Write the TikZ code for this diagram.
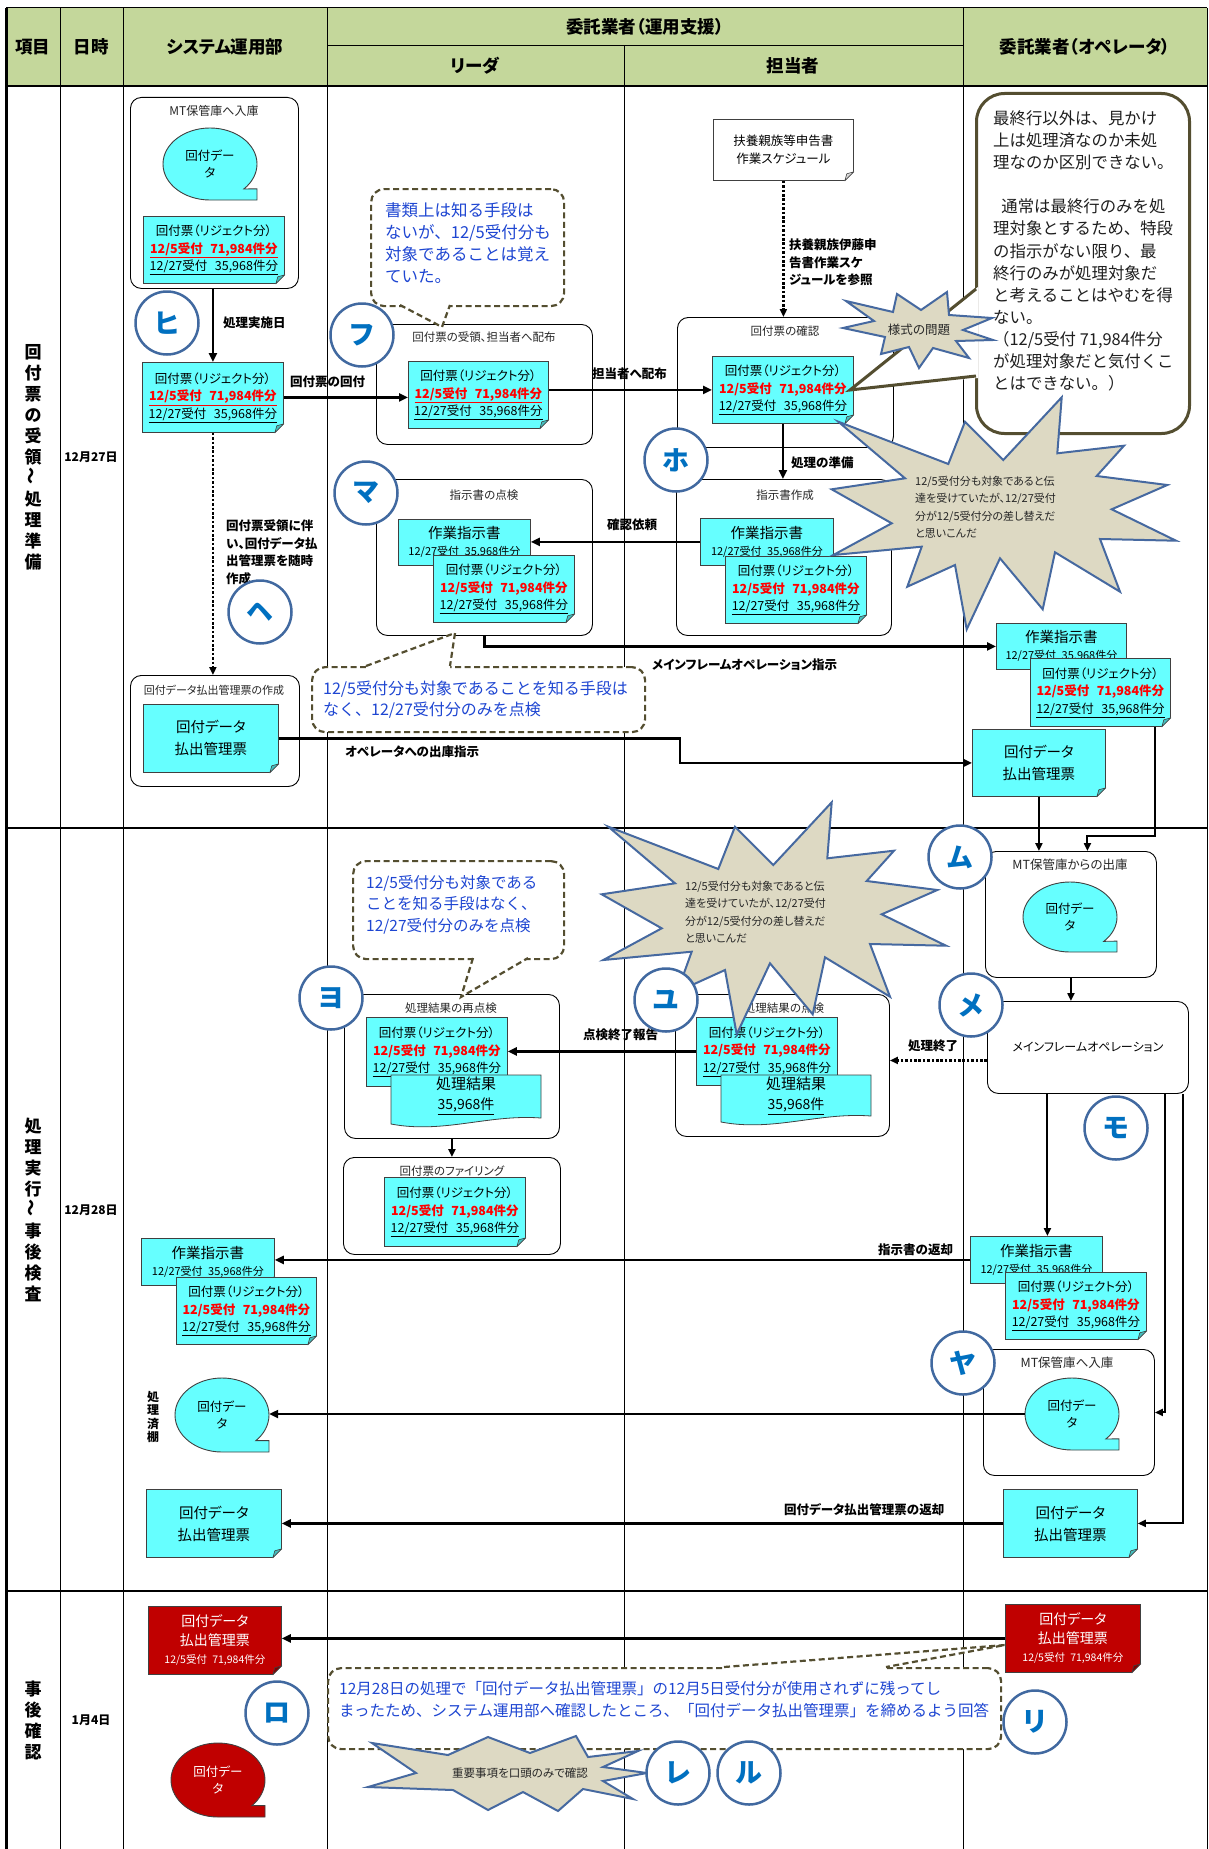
\documentclass[tikz,border=0pt]{standalone}
\usepackage{fontspec}
\usepackage{graphicx}
\setmainfont{Noto Sans CJK JP}
\newfontfamily\jpp{Noto Sans CJK JP}[RawFeature=+palt]
\usetikzlibrary{arrows.meta,calc}
\definecolor{hdrgreen}{RGB}{196,215,155}
\definecolor{cyanf}{RGB}{102,255,255}
\definecolor{foldc}{RGB}{70,190,190}
\definecolor{docline}{RGB}{64,64,64}
\definecolor{redf}{RGB}{192,0,0}
\definecolor{redfold}{RGB}{130,0,0}
\definecolor{redtxt}{RGB}{255,0,0}
\definecolor{markline}{RGB}{65,105,160}
\definecolor{marktext}{RGB}{0,112,192}
\definecolor{burstf}{RGB}{221,217,195}
\definecolor{burstl}{RGB}{70,105,160}
\definecolor{calloutl}{RGB}{84,78,48}
\definecolor{bluetxt}{RGB}{30,70,210}

\newcommand\kaifuU{回付票（リジェクト分）\\{\color{redtxt}\bfseries\underline{12/5受付\hspace{0.6em}71,984件分}}\\\underline{12/27受付\hspace{0.6em}35,968件分}}
\newcommand\kaifu{回付票（リジェクト分）\\{\color{redtxt}\bfseries 12/5受付\hspace{0.6em}71,984件分}\\\underline{12/27受付\hspace{0.6em}35,968件分}}
\newcommand\sagyo{作業指示書\\{\fontsize{11}{14}\selectfont 12/27受付\hspace{0.5em}35,968件分}}
\newcommand\harai{回付データ\\払出管理票}
\newcommand\fold[2][foldc]{%
  \fill[white] ([xshift=-10pt,yshift=-1pt]#2.south east) -- ([xshift=1pt,yshift=-1pt]#2.south east) -- ([xshift=1pt,yshift=10pt]#2.south east) -- cycle;
  \filldraw[fill=#1, draw=docline, line width=0.6pt, line join=round] ([xshift=-9pt]#2.south east) -- ([yshift=9pt]#2.south east) -- ([xshift=-7pt,yshift=7pt]#2.south east) -- cycle;}
\newcommand\blobshape[5]{%
  \filldraw[fill=#5, draw=docline, line width=0.9pt] (#1,#2+#4) arc[start angle=-90, end angle=-404, x radius=#3pt, y radius=#4pt] -- (#1+#3,#2+0.69*#4) -- (#1+#3,#2+#4) -- cycle;}
\newcommand\wavyshape[4]{%
  \filldraw[fill=cyanf, draw=docline, line width=0.8pt] (#1,#2) -- (#1+#3,#2) -- (#1+#3,#2+#4-9) .. controls (#1+0.65*#3,#2+#4-13) and (#1+0.35*#3,#2+#4+7) .. (#1,#2+#4-3) -- cycle;}
\newcommand\burstbig[2]{%
  \filldraw[burstst, shift={(#1,#2)}] (18.3,31.7) -- (128.3,74) -- (145,31.7) -- (183.3,70) -- (241.7,7.3) -- (237.3,63.3) -- (304,55.7) -- (276.7,86) -- (347.3,95) -- (291.7,119.3) -- (356,150.7) -- (280,149) -- (300,201.7) -- (235,162.3) -- (222.7,219.3) -- (180,168.3) -- (146.7,239.3) -- (135,175) -- (87.3,196.7) -- (101.7,156.7) -- (13.3,165) -- (71.7,133.3) -- (11.7,99.3) -- (85,88.3) -- cycle;}

\begin{document}
\begin{tikzpicture}[x=1pt,y=-1pt,
 hdr/.style={font=\jpp\bfseries\fontsize{17.5}{20}\selectfont, inner sep=0pt},
 vlab/.style={font=\bfseries\fontsize{17}{21}\selectfont, align=center, inner sep=0pt},
 datel/.style={font=\jpp\bfseries\fontsize{12}{14}\selectfont, inner sep=0pt},
 pbox/.style={draw=black, line width=0.9pt, rounded corners=11pt, fill=white, anchor=north west, inner sep=0pt},
 ptitle/.style={font=\jpp\fontsize{11.5}{14}\selectfont, inner sep=0pt, text=black!85},
 doc/.style={draw=docline, fill=cyanf, line width=0.8pt, anchor=north west, inner sep=0pt, align=center, font=\jpp\fontsize{12.5}{17.5}\selectfont},
 wdoc/.style={doc, fill=white},
 rdoc/.style={doc, fill=redf, text=white, font=\jpp\fontsize{14}{18.5}\selectfont},
 sdoc/.style={doc, font=\jpp\fontsize{14.5}{17}\selectfont},
 pdocs/.style={doc, font=\jpp\fontsize{14.5}{22}\selectfont},
 blobt/.style={inner sep=0pt, align=center, font=\jpp\fontsize{12.5}{17}\selectfont},
 kt/.style={inner sep=0pt, align=center, font=\jpp\fontsize{15}{20}\selectfont},
 marker/.style={circle, draw=markline, line width=2.5pt, fill=white, minimum size=63pt, inner sep=0pt, text=marktext, font=\bfseries\fontsize{27}{27}\selectfont},
 lbl/.style={font=\jpp\bfseries\fontsize{12.5}{17.5}\selectfont, inner sep=0pt, anchor=west},
 mlbl/.style={font=\jpp\bfseries\fontsize{12.5}{17.5}\selectfont, inner sep=0pt, anchor=north west, align=left},
 flow/.style={line width=2.6pt, -{Triangle[length=9pt,width=8pt]}},
 thinflow/.style={line width=2pt, -{Triangle[length=8pt,width=7pt]}},
 dotflow/.style={line width=2.6pt, dash pattern=on 2.6pt off 1.8pt, -{Triangle[length=8pt,width=7pt]}},
 cbox/.style={draw=calloutl, line width=2.2pt, dash pattern=on 6pt off 3.5pt, rounded corners=13pt, fill=white, anchor=north west, inner sep=0pt},
 ctail/.style={draw=calloutl, line width=2.2pt, dash pattern=on 6pt off 3.5pt},
 ctext/.style={text=bluetxt, font=\fontsize{16.5}{22}\selectfont, anchor=north west, align=left, inner sep=0pt},
 bubbox/.style={draw=calloutl, line width=3pt, rounded corners=28pt, fill=white, anchor=north west, inner sep=0pt},
 burstst/.style={draw=burstl, fill=burstf, line width=2pt, line join=miter},
 bursttext/.style={inner sep=0pt, anchor=north west, align=left, text=black!85, font=\jpp\fontsize{11}{17.6}\selectfont},
]
\useasboundingbox (0,0) rectangle (1208,1849);

% ---------- table ----------
\fill[hdrgreen] (6,8) rectangle (1207,86);
\draw[line width=1pt] (6,8) -- (1207,8);
\draw[line width=1pt] (327,46) -- (963,46);
\draw[line width=2pt] (6,86) -- (1207,86);
\draw[line width=1.2pt] (6,828) -- (1207,828);
\draw[line width=1.2pt] (6,1591) -- (1207,1591);
\foreach \xx in {60,123,327,963} \draw[line width=1pt] (\xx,8) -- (\xx,1849);
\draw[line width=1pt] (624,46) -- (624,1849);
\draw[line width=3pt] (6,8) -- (6,1849);
\draw[line width=1pt] (1207,8) -- (1207,1849);

\node[hdr] (h1) at (33,47) {項目};
\node[hdr] (h2) at (91,47) {日時};
\node[hdr] (h3) at (225,47) {システム運用部};
\node[hdr] (h4) at (645,27) {委託業者（運用支援）};
\node[hdr] (h5) at (475,66) {リーダ};
\node[hdr] (h6) at (793,66) {担当者};
\node[hdr] (h7) at (1085,47) {委託業者（オペレータ）};

\node[vlab] (v1) at (33,457) {回\\付\\票\\の\\受\\領\\\rotatebox{90}{～}\\処\\理\\準\\備};
\node[vlab] (v2) at (33,1210) {処\\理\\実\\行\\\rotatebox{90}{～}\\事\\後\\検\\査};
\node[vlab] (v3) at (33,1720) {事\\後\\確\\認};
\node[datel] (d1) at (91,457) {12月27日};
\node[datel] (d2) at (91,1210) {12月28日};
\node[datel] (d3) at (91,1720) {1月4日};

% ---------- section 1 ----------
\node[pbox, minimum width=168, minimum height=191] (mtsys) at (130,97) {};
\node[ptitle, font=\jpp\fontsize{12}{14}\selectfont] (mtsyst) at (214,111) {MT保管庫へ入庫};
\blobshape{210}{164}{47}{36}{cyanf}
\node[blobt, minimum width=94, minimum height=72] (blob1) at (210,164) {回付デー\\タ};
\node[doc, minimum width=141, minimum height=67] (hd1) at (143,216) {\kaifuU};
\fold{hd1}
\node[doc, minimum width=141, minimum height=70] (hd2) at (142,362) {\kaifuU};
\fold{hd2}
\draw[flow] (mtsys.south -| hd2.north) -- (hd2.north);
\node[lbl] (l1) at (223,323) {処理実施日};

\node[pbox, minimum width=216, minimum height=120] (fbox) at (376,324) {};
\node[ptitle] (fboxt) at (484,337) {回付票の受領、担当者へ配布};
\node[doc, minimum width=140, minimum height=67] (fdoc) at (408,361) {\kaifuU};
\fold{fdoc}
\draw[flow] (hd2.east) -- (hd2.east -| fdoc.west);
\node[lbl] (l2) at (290,382) {回付票の回付};

\node[wdoc, minimum width=140, minimum height=61, font=\jpp\fontsize{12.5}{18}\selectfont] (fuyo) at (713,119) {扶養親族等申告書\\作業スケジュール};
\fold[black!15]{fuyo}
\node[pbox, minimum width=216, minimum height=130] (hobox) at (677,317) {};
\node[ptitle] (hoboxt) at (785,331) {回付票の確認};
\node[doc, minimum width=141, minimum height=67] (hodoc) at (712,356) {\kaifu};
\fold{hodoc}
\draw[dotflow] (fuyo.south) -- (fuyo.south |- hobox.north);
\node[mlbl] (l3) at (789,239) {扶養親族伊藤申\\告書作業スケ\\ジュールを参照};
\draw[flow] (hodoc.west -| fdoc.east) -- (hodoc.west);
\node[lbl] (l4) at (592,374) {担当者へ配布};

\node[pbox, minimum width=215, minimum height=156] (hsbox) at (676,479) {};
\node[ptitle] (hsboxt) at (785,495) {指示書作成};
\node[sdoc, minimum width=133, minimum height=47] (hsdoc) at (700,518) {\sagyo};
\fold{hsdoc}
\node[doc, minimum width=141, minimum height=67] (hrdoc) at (725,556) {\kaifu};
\fold{hrdoc}
\draw[flow] (hodoc.south) -- (hodoc.south |- hsbox.north);
\node[lbl] (l5) at (791,463) {処理の準備};

\node[pbox, minimum width=216, minimum height=156] (mbox) at (376,479) {};
\node[ptitle] (mboxt) at (484,495) {指示書の点検};
\node[sdoc, minimum width=132, minimum height=46] (msdoc) at (398,519) {\sagyo};
\fold{msdoc}
\node[doc, minimum width=141, minimum height=67] (mrdoc) at (433,555) {\kaifu};
\fold{mrdoc}
\draw[flow] (hsdoc.west) -- (hsdoc.west -| msdoc.east);
\node[lbl] (l6) at (607,525) {確認依頼};

\node[sdoc, minimum width=130, minimum height=46] (opsdoc) at (996,623) {\sagyo};
\fold{opsdoc}
\node[doc, minimum width=140, minimum height=68] (oprdoc) at (1030,658) {\kaifu};
\fold{oprdoc}
\draw[flow] (mbox.south) |- (opsdoc.west);
\node[lbl] (l7) at (652,665) {メインフレームオペレーション指示};

\node[pbox, minimum width=169, minimum height=111] (pbox) at (130,675) {};
\node[ptitle, font=\jpp\fontsize{11}{13}\selectfont] (pboxt) at (214,690) {回付データ払出管理票の作成};
\node[pdocs, minimum width=135, minimum height=68] (pdoc) at (143,704) {\harai};
\fold{pdoc}
\draw[dotflow] (hd2.south) -- (hd2.south |- pbox.north);
\node[mlbl] (l8) at (226,520) {回付票受領に伴\\い、回付データ払\\出管理票を随時\\作成};

\node[pdocs, minimum width=133, minimum height=67] (opdoc) at (972,729) {\harai};
\fold{opdoc}
\draw[flow] (pdoc.east) -- ++(401,0) |- (opdoc.west);
\node[lbl] (l9) at (345,752) {オペレータへの出庫指示};

% callout 1
\node[cbox, minimum width=193, minimum height=117] (c1) at (370,188) {};
\fill[white] (400,302) -- (450,302) -- (450,305) -- (442,327) -- (400,305) -- cycle;
\draw[ctail] (400,305) -- (442,327) -- (450,305);
\node[ctext] (c1t) at (385,202.5) {書類上は知る手段は\\ないが、12/5受付分も\\対象であることは覚え\\ていた。};

% callout 2
\node[cbox, minimum width=333, minimum height=65] (c2) at (311,666) {};
\fill[white] (366,669) -- (366,666) -- (455,633) -- (450,666) -- (450,669) -- cycle;
\draw[ctail] (366,666) -- (455,633) -- (450,666);
\node[ctext, font=\fontsize{16}{21}\selectfont] (c2t) at (323,680.6) {12/5受付分も対象であることを知る手段は\\なく、12/27受付分のみを点検};

% bubble
\node[bubbox, minimum width=213, minimum height=340] (bub) at (975,92) {};
\fill[white] (978,287) -- (850,390) -- (978,378) -- cycle;
\draw[calloutl, line width=3pt] (976,289) -- (850,390) -- (976,376);
\node[anchor=north west, align=left, inner sep=0pt, text=black!88, font=\fontsize{16.4}{22.1}\selectfont] (bubt) at (993,110.5) {最終行以外は、見かけ\\上は処理済なのか未処\\理なのか区別できない。\\[22.1pt]\hspace{0.5em}通常は最終行のみを処\\理対象とするため、特段\\の指示がない限り、最\\終行のみが処理対象だ\\と考えることはやむを得\\ない。\\（12/5受付 71,984件分\\が処理対象だと気付くこ\\とはできない。）};

% starburst: 様式の問題
\filldraw[burstst, shift={(919,330)}] (-73,-29) -- (-26,-18) -- (-22,-36) -- (2,-20) -- (28,-38) -- (30,-15) -- (73,-12) -- (44,0) -- (74,10) -- (37,11) -- (50,28) -- (14,18) -- (0,38) -- (-10,17) -- (-38,24) -- (-34,7) -- (-76,-2) -- (-45,-9) -- cycle;
\node[inner sep=0pt, text=black!85, font=\jpp\fontsize{12.5}{14}\selectfont] (sbA) at (919,330) {様式の問題};

% big starburst 1
\burstbig{820}{390}
\node[bursttext] (sb1) at (915,475.6) {12/5受付分も対象であると伝\\達を受けていたが、12/27受付\\分が12/5受付分の差し替えだ\\と思いこんだ};

\node[marker] (mHi) at (167,323) {ヒ};
\node[marker] (mFu) at (362,335) {フ};
\node[marker] (mHo) at (676,460) {ホ};
\node[marker] (mMa) at (366,493) {マ};
\node[marker] (mHe) at (260,612) {ヘ};

% ---------- section 2 ----------
\node[pbox, minimum width=171, minimum height=126] (mtout) at (985,851) {};
\node[ptitle, font=\jpp\fontsize{12.5}{14}\selectfont] (mtoutt) at (1070,865) {MT保管庫からの出庫};
\blobshape{1070}{917}{47}{35}{cyanf}
\node[blobt, minimum width=94, minimum height=70] (blob2) at (1070,917) {回付デー\\タ};
\draw[thinflow] (opdoc.south) -- (opdoc.south |- mtout.north);
\draw[thinflow] ([xshift=-16pt]oprdoc.south east) -- ++(0,109) -| ([xshift=16.5pt]mtout.north);

\node[pbox, minimum width=201, minimum height=92, font=\jpp\fontsize{12}{14}\selectfont] (mfbox) at (987,1001) {メインフレームオペレーション};
\draw[thinflow] (mtout.south) -- (mtout.south |- mfbox.north);

\node[pbox, minimum width=214, minimum height=142] (yubox) at (675,994) {};
\node[ptitle] (yuboxt) at (784,1008) {処理結果の点検};
\node[doc, minimum width=141, minimum height=68] (yurdoc) at (696,1017) {\kaifu};
\wavyshape{721}{1075}{150}{50}
\node[kt] (yukdoc) at (796,1096) {処理結果\\{\fontsize{14}{20}\selectfont\underline{35,968件}}};
\draw[dotflow] ([yshift=-13pt]mfbox.west) -- ([yshift=-13pt]mfbox.west -| yubox.east);
\node[lbl] (l10) at (908,1046) {処理終了};

\node[pbox, minimum width=215, minimum height=144] (yobox) at (344,994) {};
\node[ptitle] (yoboxt) at (451,1008) {処理結果の再点検};
\node[doc, minimum width=141, minimum height=69] (yordoc) at (366,1017) {\kaifu};
\wavyshape{391}{1075}{150}{52}
\node[kt] (yokdoc) at (466,1096) {処理結果\\{\fontsize{14}{20}\selectfont\underline{35,968件}}};
\draw[flow] (yurdoc.west) -- (yurdoc.west -| yordoc.east);
\node[lbl] (l11) at (583,1035) {点検終了報告};

\node[pbox, minimum width=217, minimum height=97] (filbox) at (343,1157) {};
\node[ptitle] (filboxt) at (452,1171) {回付票のファイリング};
\node[doc, minimum width=141, minimum height=69] (fidoc) at (384,1177) {\kaifu};
\fold{fidoc}
\draw[thinflow] (yobox.south) -- (yobox.south |- filbox.north);

% callout 3
\node[cbox, minimum width=211, minimum height=98] (c3) at (352,860) {};
\fill[white] (473,955) -- (528,955) -- (528,958) -- (461,997) -- (473,958) -- cycle;
\draw[ctail] (473,958) -- (461,997) -- (528,958);
\node[ctext, font=\fontsize{15.5}{21.5}\selectfont] (c3t) at (366,875) {12/5受付分も対象である\\ことを知る手段はなく、\\12/27受付分のみを点検};

% big starburst 2
\burstbig{590}{795}
\node[bursttext] (sb2) at (685,880.6) {12/5受付分も対象であると伝\\達を受けていたが、12/27受付\\分が12/5受付分の差し替えだ\\と思いこんだ};

\node[sdoc, minimum width=133, minimum height=47] (ssdoc) at (141,1238) {\sagyo};
\fold{ssdoc}
\node[doc, minimum width=140, minimum height=67] (srdoc) at (176,1277) {\kaifu};
\fold{srdoc}
\node[sdoc, minimum width=132, minimum height=47] (opsdoc2) at (970,1236) {\sagyo};
\fold{opsdoc2}
\node[doc, minimum width=141, minimum height=67] (oprdoc2) at (1005,1272) {\kaifu};
\fold{oprdoc2}
\draw[thinflow] ([xshift=-40.5pt]mfbox.south) -- ([xshift=-40.5pt]mfbox.south |- opsdoc2.north);
\draw[flow] (opsdoc2.west) -- (opsdoc2.west -| ssdoc.east);
\node[lbl] (l12) at (878,1250) {指示書の返却};

\node[pbox, minimum width=171, minimum height=126] (mtin) at (983,1349) {};
\node[ptitle, font=\jpp\fontsize{12.5}{14}\selectfont] (mtint) at (1067,1363) {MT保管庫へ入庫};
\blobshape{1072}{1414}{47}{36}{cyanf}
\node[blobt, minimum width=94, minimum height=72] (blob3) at (1072,1414) {回付デー\\タ};
\draw[thinflow] ([xshift=77.5pt]mfbox.south) |- (mtin.east);

\blobshape{222}{1415}{47}{37}{cyanf}
\node[blobt, minimum width=94, minimum height=74] (blob4) at (222,1415) {回付デー\\タ};
\draw[flow] (blob3.west) -- (blob3.west -| blob4.east);
\node[vlab, font=\jpp\bfseries\fontsize{12}{13.5}\selectfont] (l13) at (153,1417) {処\\理\\済\\棚};

\node[pdocs, minimum width=135, minimum height=68] (spdoc) at (146,1489) {\harai};
\fold{spdoc}
\node[pdocs, minimum width=134, minimum height=68] (opdoc2) at (1003,1489) {\harai};
\fold{opdoc2}
\draw[thinflow] ([xshift=95.5pt]mfbox.south) |- (opdoc2.east);
\draw[flow] (opdoc2.west) -- (spdoc.east);
\node[lbl] (l14) at (784,1510) {回付データ払出管理票の返却};

\node[marker] (mMu) at (960,857) {ム};
\node[marker] (mMe) at (971,1005) {メ};
\node[marker] (mMo) at (1116,1128) {モ};
\node[marker] (mYu) at (666,1000) {ユ};
\node[marker] (mYo) at (331,998) {ヨ};
\node[marker] (mYa) at (963,1363) {ヤ};

% ---------- section 3 ----------
\node[rdoc, minimum width=133, minimum height=68] (sred) at (148,1606) {回付データ\\払出管理票\\{\fontsize{10.5}{12}\selectfont 12/5受付\hspace{0.5em}71,984件分}};
\fold[redfold]{sred}
\node[rdoc, minimum width=135, minimum height=68] (opred) at (1005,1604) {回付データ\\払出管理票\\{\fontsize{10.5}{12}\selectfont 12/5受付\hspace{0.5em}71,984件分}};
\fold[redfold]{opred}
\draw[flow] (opred.west) -- (opred.west -| sred.east);

\node[cbox, minimum width=673, minimum height=81] (c4) at (327,1667) {};
\fill[white] (724,1670) -- (724,1667) -- (1005,1645) -- (886,1667) -- (886,1670) -- cycle;
\draw[ctail] (724,1667) -- (1005,1645) -- (886,1667);
\node[ctext, font=\fontsize{15.5}{22}\selectfont] (c4t) at (339,1681) {12月28日の処理で「回付データ払出管理票」の12月5日受付分が使用されずに残ってし\\まったため、システム運用部へ確認したところ、「回付データ払出管理票」を締めるよう回答};

\blobshape{218}{1780}{47}{37}{redf}
\node[blobt, text=white, minimum width=94, minimum height=74] (blob5) at (218,1780) {回付デー\\タ};

% starburst 3
\filldraw[burstst, shift={(508,1773)}] (-136,-30) -- (-60,-18) -- (-20,-36) -- (22,-20) -- (68,-37) -- (80,-16) -- (130,-22) -- (95,-6) -- (139,0) -- (95,8) -- (125,26) -- (75,16) -- (50,38) -- (15,19) -- (-20,37) -- (-55,17) -- (-140,14) -- (-92,0) -- cycle;
\node[inner sep=0pt, text=black!85, font=\jpp\fontsize{11.5}{14}\selectfont] (sb3) at (520,1773) {重要事項を口頭のみで確認};

\node[marker] (mRo) at (277,1713) {ロ};
\node[marker] (mRi) at (1035,1722) {リ};
\node[marker] (mRe) at (678,1773) {レ};
\node[marker] (mRu) at (749,1773) {ル};
\end{tikzpicture}
\end{document}
